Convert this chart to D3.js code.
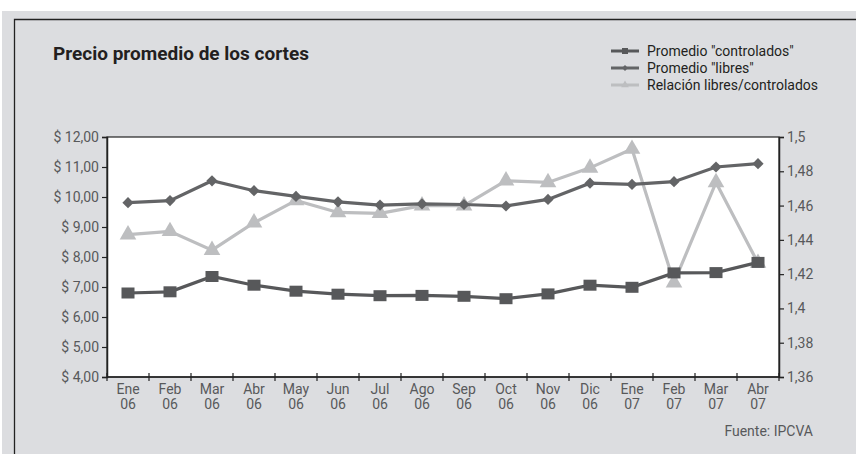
<!DOCTYPE html>
<html>
<head>
<meta charset="utf-8">
<script src="https://cdn.jsdelivr.net/npm/d3@7"></script>
<style>
  html, body { margin: 0; padding: 0; background: #ffffff; }
  svg { display: block; }
  text { font-family: "Liberation Sans Narrow", "Arial Narrow", "Roboto", sans-serif; }
</style>
</head>
<body>
<svg id="chart" width="856" height="454"></svg>
<script>
// Monthly categories (two-line labels: month / year)
const months = ["Ene", "Feb", "Mar", "Abr", "May", "Jun", "Jul", "Ago", "Sep", "Oct", "Nov", "Dic", "Ene", "Feb", "Mar", "Abr"];
const years  = ["06", "06", "06", "06", "06", "06", "06", "06", "06", "06", "06", "06", "07", "07", "07", "07"];

// Average price, "controlled" cuts ($)
const controlados = [6.80, 6.84, 7.35, 7.06, 6.86, 6.76, 6.71, 6.72, 6.69, 6.61, 6.77, 7.06, 6.99, 7.47, 7.48, 7.82];
// Average price, "free" cuts ($)
const libres = [9.81, 9.88, 10.54, 10.21, 10.02, 9.84, 9.73, 9.77, 9.75, 9.70, 9.92, 10.46, 10.42, 10.51, 11.00, 11.11];
// Ratio free / controlled (right axis)
const relacion = [1.443, 1.445, 1.434, 1.450, 1.463, 1.456, 1.4555, 1.460, 1.460, 1.4745, 1.4735, 1.482, 1.493, 1.415, 1.4735, 1.4265];

const leftTicks  = [4, 5, 6, 7, 8, 9, 10, 11, 12];
const rightTicks = [1.36, 1.38, 1.40, 1.42, 1.44, 1.46, 1.48, 1.50];

const seriesNames = ['Promedio "controlados"', 'Promedio "libres"', 'Relación libres/controlados'];

const svg = d3.select("#chart");
const W = 856, H = 454;

// Page background and frame
svg.append("rect").attr("x", 0).attr("y", 0).attr("width", W).attr("height", H).attr("fill", "#ffffff");
svg.append("rect").attr("x", 2).attr("y", 11).attr("width", W - 2).attr("height", H - 11).attr("fill", "#dcdde0");
svg.append("path").attr("d", `M14.5,${H} V19.5 H${W}`).attr("fill", "none").attr("stroke", "#222").attr("stroke-width", 1.3);

const plot = { left: 107, right: 779, top: 137, bottom: 377 };

const x = d3.scaleBand().domain(d3.range(months.length)).range([plot.left, plot.right]).paddingInner(0).paddingOuter(0);
const yL = d3.scaleLinear().domain([4, 12]).range([plot.bottom, plot.top]);
const yR = d3.scaleLinear().domain([1.36, 1.50]).range([plot.bottom, plot.top]);

// Plot area
svg.append("rect")
  .attr("x", plot.left).attr("y", plot.top)
  .attr("width", plot.right - plot.left).attr("height", plot.bottom - plot.top)
  .attr("fill", "#ffffff").attr("stroke", "#222").attr("stroke-width", 1.2);

const textColor = "#58595b";

// Left axis
const fmtL = d => "$ " + d3.format(".2f")(d).replace(".", ",");
const axL = svg.append("g").attr("transform", `translate(${plot.left},0)`)
  .call(d3.axisLeft(yL).tickValues(leftTicks).tickFormat(fmtL).tickSize(5).tickPadding(3));
axL.select(".domain").attr("stroke", "#222").attr("stroke-width", 1.5);
axL.selectAll(".tick line").attr("stroke", "#222").attr("stroke-width", 1.2);
axL.selectAll(".tick text").attr("fill", textColor).attr("font-size", 14).attr("font-family", '"Liberation Sans Narrow", "Arial Narrow", Roboto, sans-serif');

// Right axis
const fmtR = d => d3.format("")(+d.toFixed(2)).replace(".", ",");
const axR = svg.append("g").attr("transform", `translate(${plot.right},0)`)
  .call(d3.axisRight(yR).tickValues(rightTicks).tickFormat(fmtR).tickSize(5).tickPadding(3));
axR.select(".domain").attr("stroke", "#222").attr("stroke-width", 1.5);
axR.selectAll(".tick line").attr("stroke", "#222").attr("stroke-width", 1.2);
axR.selectAll(".tick text").attr("fill", textColor).attr("font-size", 14).attr("font-family", '"Liberation Sans Narrow", "Arial Narrow", Roboto, sans-serif');

// Bottom axis: ticks between categories, two-line labels
const axB = svg.append("g").attr("transform", `translate(0,${plot.bottom})`);
axB.append("line").attr("x1", plot.left).attr("x2", plot.right).attr("y1", 0).attr("y2", 0)
  .attr("stroke", "#222").attr("stroke-width", 1.5);
axB.selectAll("line.tk").data(d3.range(months.length + 1)).join("line").attr("class", "tk")
  .attr("x1", i => plot.left + i * x.bandwidth()).attr("x2", i => plot.left + i * x.bandwidth())
  .attr("y1", -4).attr("y2", 4).attr("stroke", "#222").attr("stroke-width", 1.2);
const lbl = axB.selectAll("text.lb").data(d3.range(months.length)).join("text").attr("class", "lb")
  .attr("x", i => x(i) + x.bandwidth() / 2)
  .attr("text-anchor", "middle").attr("fill", textColor).attr("font-size", 14);
lbl.append("tspan").attr("x", i => x(i) + x.bandwidth() / 2).attr("y", 17).text(i => months[i]);
lbl.append("tspan").attr("x", i => x(i) + x.bandwidth() / 2).attr("y", 32).text(i => years[i]);

const cx = i => x(i) + x.bandwidth() / 2;

const colCtrl = "#57585a";
const colLib = "#636466";
const colRel = "#bdbec0";

// Ratio series (light, drawn first)
svg.append("path").datum(relacion)
  .attr("d", d3.line().x((d, i) => cx(i)).y(d => yR(d)))
  .attr("fill", "none").attr("stroke", colRel).attr("stroke-width", 3.2);
svg.selectAll("path.tri").data(relacion).join("path").attr("class", "tri")
  .attr("transform", (d, i) => `translate(${cx(i)},${yR(d)})`)
  .attr("d", d3.symbol().type(d3.symbolTriangle).size(120))
  .attr("fill", colRel);

// Free cuts series
svg.append("path").datum(libres)
  .attr("d", d3.line().x((d, i) => cx(i)).y(d => yL(d)))
  .attr("fill", "none").attr("stroke", colLib).attr("stroke-width", 3.2);
svg.selectAll("path.dia").data(libres).join("path").attr("class", "dia")
  .attr("transform", (d, i) => `translate(${cx(i)},${yL(d)})`)
  .attr("d", d3.symbol().type(d3.symbolDiamond2).size(80))
  .attr("fill", colLib);

// Controlled cuts series
svg.append("path").datum(controlados)
  .attr("d", d3.line().x((d, i) => cx(i)).y(d => yL(d)))
  .attr("fill", "none").attr("stroke", colCtrl).attr("stroke-width", 3.2);
svg.selectAll("rect.sq").data(controlados).join("rect").attr("class", "sq")
  .attr("x", (d, i) => cx(i) - 6.5).attr("y", d => yL(d) - 5.5)
  .attr("width", 13).attr("height", 11)
  .attr("fill", colCtrl);

// Title
svg.append("text").attr("x", 53).attr("y", 60)
  .attr("font-size", 19).attr("font-weight", "bold").attr("fill", "#231f20")
  .text("Precio promedio de los cortes");

// Legend
const legend = svg.append("g");
const legColors = [colCtrl, colLib, colRel];
seriesNames.forEach((name, k) => {
  const yy = 51 + k * 17;
  legend.append("line").attr("x1", 611).attr("x2", 639).attr("y1", yy).attr("y2", yy)
    .attr("stroke", legColors[k]).attr("stroke-width", 3);
  if (k === 0) legend.append("rect").attr("x", 622).attr("y", yy - 3).attr("width", 6).attr("height", 6).attr("fill", legColors[k]);
  if (k === 1) legend.append("path").attr("transform", `translate(625,${yy})`).attr("d", d3.symbol().type(d3.symbolDiamond2).size(22)).attr("fill", legColors[k]);
  if (k === 2) legend.append("path").attr("transform", `translate(625,${yy})`).attr("d", d3.symbol().type(d3.symbolTriangle).size(26)).attr("fill", legColors[k]);
  legend.append("text").attr("x", 647).attr("y", yy + 5)
    .attr("font-size", 14).attr("fill", "#231f20").text(name);
});

// Source
svg.append("text").attr("x", 813).attr("y", 436).attr("text-anchor", "end")
  .attr("font-size", 14).attr("fill", textColor).text("Fuente: IPCVA");
</script>
</body>
</html>
